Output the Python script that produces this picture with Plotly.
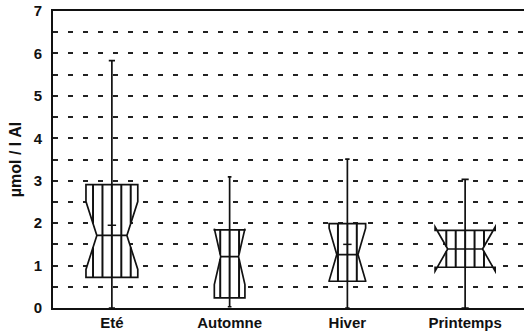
import math
import plotly.graph_objects as go

# Seasonal aluminium concentrations (µmol / l Al), summary statistics per season
categories = ["Eté", "Automne", "Hiver", "Printemps"]
q1 = [0.72, 0.24, 0.63, 0.96]
median = [1.71, 1.21, 1.26, 1.39]
q3 = [2.91, 1.84, 1.99, 1.83]
lower_fence = [0.0, 0.03, 0.0, 0.0]
upper_fence = [5.83, 3.09, 3.51, 3.03]
notch_span = [0.80, 0.66, 0.62, 0.52]
means = [1.95, None, 1.50, None]
box_widths = [0.44, 0.26, 0.31, 0.51]
y_ticks = [0, 1, 2, 3, 4, 5, 6, 7]

NOTCH_WIDTH = 0.21
HATCH_STEP = 0.08

fig = go.Figure()

for i, cat in enumerate(categories):
    fig.add_trace(go.Box(
        x=[i], q1=[q1[i]], median=[median[i]], q3=[q3[i]],
        lowerfence=[lower_fence[i]], upperfence=[upper_fence[i]],
        notched=True, notchspan=[notch_span[i]], notchwidth=NOTCH_WIDTH,
        width=box_widths[i], whiskerwidth=0.12,
        fillcolor="white", line=dict(color="#111", width=1.7),
        name=cat, showlegend=False, hoverinfo="skip",
    ))


def hatch_lines(xc, w, lo, med, hi, span):
    """Vertical hatching clipped to the notched outline of a box."""
    hw = w / 2
    hwn = hw * (1 - 2 * NOTCH_WIDTH)
    xs, ys = [], []
    k = int(math.floor(hw / HATCH_STEP))
    for j in range(-k, k + 1):
        dx = j * HATCH_STEP
        if abs(dx) > hw - 0.25 * HATCH_STEP:
            continue
        if abs(dx) <= hwn:
            segs = [(lo, hi)]
        else:
            f = (abs(dx) - hwn) / (hw - hwn)
            segs = []
            if med - span * f > lo:
                segs.append((lo, med - span * f))
            if med + span * f < hi:
                segs.append((med + span * f, hi))
        for a, b in segs:
            xs += [xc + dx, xc + dx, None]
            ys += [a, b, None]
    return xs, ys


for i in range(len(categories)):
    hx, hy = hatch_lines(i, box_widths[i], q1[i], median[i], q3[i], notch_span[i])
    fig.add_trace(go.Scatter(
        x=hx, y=hy, mode="lines", line=dict(color="#111", width=2),
        showlegend=False, hoverinfo="skip",
    ))

# small mean markers
mx = [i for i, m in enumerate(means) if m is not None]
my = [m for m in means if m is not None]
fig.add_trace(go.Scatter(
    x=mx, y=my, mode="markers",
    marker=dict(symbol="line-ew", size=6, line=dict(color="#111", width=1.5)),
    showlegend=False, hoverinfo="skip",
))

grid_style = dict(gridcolor="#222", gridwidth=1.6, griddash="5px,10px")

fig.update_layout(
    width=524, height=334,
    margin=dict(l=53, r=0, t=11, b=26),
    paper_bgcolor="white", plot_bgcolor="white",
    boxmode="overlay",
    font=dict(family="Liberation Sans, Arial, sans-serif", color="#111"),
    xaxis=dict(
        range=[-0.5, 3.5],
        tickmode="array", tickvals=list(range(len(categories))), ticktext=categories,
        tickfont=dict(size=15, weight="bold"),
        showline=True, linecolor="#111", linewidth=2, mirror=True,
        showgrid=False, zeroline=False, ticks="",
    ),
    yaxis=dict(
        range=[0, 7],
        tickmode="array", tickvals=y_ticks,
        tickfont=dict(size=15, weight="bold"),
        showline=True, linecolor="#111", linewidth=2,
        zeroline=False, ticks="", ticklabelstandoff=6,
        showgrid=True, **grid_style,
        minor=dict(dtick=0.5, showgrid=True, **grid_style),
        title=dict(text="µmol / l Al", font=dict(size=16, weight="bold"), standoff=8),
    ),
)

fig.write_html("out.html")
